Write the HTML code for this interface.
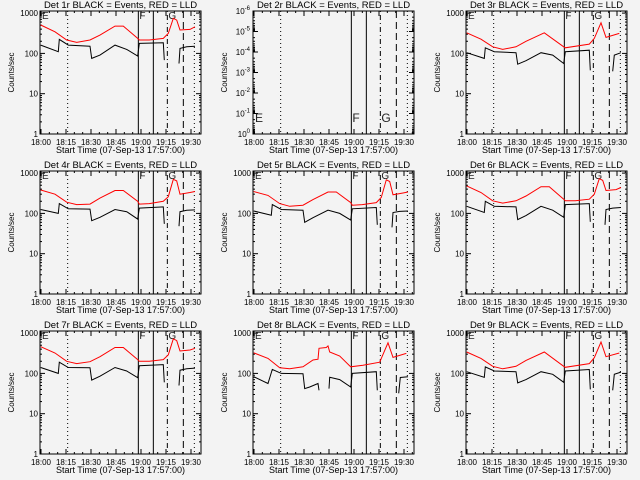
<!DOCTYPE html>
<html><head><meta charset="utf-8"><style>
html,body{margin:0;padding:0;background:#f3f3f3;}
svg{display:block;font-family:"Liberation Sans",sans-serif;}
</style></head><body>
<svg id="chart" width="640" height="480" viewBox="0 0 640 480"></svg>
<script>
// shared time grid (minutes after 18:00)
const xTickLabels = ["18:00","18:15","18:30","18:45","19:00","19:15","19:30"];
const xTickMinutes = [0,15,30,45,60,75,90];
const yTickLabels = ["1000","100","10","1"];
const yTickValues = [1000,100,10,1];
const panelTitles = ["Det 1r","Det 2r","Det 3r","Det 4r","Det 5r","Det 6r","Det 7r","Det 8r","Det 9r"];
// event markers (minutes)
const markerTimes = [16.0, 58.4, 67.4, 75.8, 85.4, 92.0];
const markerStyles = ["dot","solid","solid","dashdot","dash","dot"];

const p1BlackT = [-0.2,10.4,11,16.4,29.4,30.4,35.4,44.4,51.4,58,59,73.4,74,null,82.8,83.4,87.4,92.4];
const p1BlackV = [161,110,222,161,151,75,91,161,126,86,177,183,68,null,56,133,146,150];
const p1RedT = [-0.2,8.4,15.4,21.4,29.4,35.4,44.4,49.4,58,59,65,73.4,76.4,79.4,81.4,83.4,89.4,92.4];
const p1RedV = [506,343,215,187,215,284,477,477,236,215,215,236,313,741,671,380,395,457];

const p4BlackV = [125,100,175,130,128,66,80,125,110,72,135,145,55,null,48,110,120,122];
const p4RedV = [380,300,190,165,170,240,370,370,200,170,175,200,260,700,640,300,330,350];
const p5BlackV = [115,90,165,125,120,60,78,120,100,68,130,140,52,null,45,105,112,115];
const p5RedV = [350,280,175,150,160,220,340,340,185,160,165,185,250,680,620,290,320,340];
const p6BlackV = [150,105,200,150,145,70,88,150,120,80,165,175,62,null,52,125,135,140];
const p6RedV = [480,330,205,180,205,270,460,460,225,205,205,225,300,730,660,370,390,440];
const p7BlackV = [140,100,190,140,138,68,85,140,115,78,155,165,60,null,50,120,130,135];
const p7RedV = [460,320,200,175,195,260,440,440,220,200,200,220,290,720,650,360,380,420];

const p3BlackT = [-0.2,10.4,11,16.4,29.4,30.4,35.4,44.4,51.4,58,59,73.4,74,null,87.4,88.4,92.4];
const p3BlackV = [104,75,138,110,104,54,66,104,91,56,110,120,38,null,36,91,104];
const p3RedT = [-0.2,8.4,15.4,21.4,29.4,35.4,46.4,58,59,73.4,76.4,80.4,83.4,91.4];
const p3RedV = [325,225,146,126,146,200,325,146,138,170,235,575,250,313];
const p9BlackV = [110,80,145,115,110,58,70,110,95,60,115,125,40,null,38,95,108];
const p9RedV = [340,235,150,130,150,210,340,150,142,175,245,600,260,320];

const p8BlackT = [-0.2,8.4,11,16.4,29.4,30.4,33.4,38.4,39,null,45,45.4,51.4,58,59,73.4,74,null,86.8,87.8,92.4];
const p8BlackV = [83,56,126,100,98,42,46,56,38,null,42,80,70,46,100,110,38,null,32,79,83];
const p8RedT = [-0.2,8.4,15.4,21.4,29.4,35.4,38.4,39,43.4,44.4,45.4,51.4,58,65.4,75.4,80.4,83.4,91.4];
const p8RedV = [325,235,138,130,146,215,225,420,440,480,340,270,146,160,190,575,250,313];

const blackT = [p1BlackT,null,p3BlackT,p1BlackT,p1BlackT,p1BlackT,p1BlackT,p8BlackT,p3BlackT];
const blackV = [p1BlackV,null,p3BlackV,p4BlackV,p5BlackV,p6BlackV,p7BlackV,p8BlackV,p9BlackV];
const redT = [p1RedT,null,p3RedT,p1RedT,p1RedT,p1RedT,p1RedT,p8RedT,p3RedT];
const redV = [p1RedV,null,p3RedV,p4RedV,p5RedV,p6RedV,p7RedV,p8RedV,p9RedV];

const NS="http://www.w3.org/2000/svg";
const svg=document.getElementById('chart');
function mk(tag,attrs,parent){const e=document.createElementNS(NS,tag);for(const k in attrs)e.setAttribute(k,attrs[k]);(parent||svg).appendChild(e);return e;}

for(let p=0;p<9;p++){
  const col=p%3,row=Math.floor(p/3);
  const L=40+col*213,R=L+161,T=11+row*160,B=T+123;
  const g=mk('g',{});
  
  
  const xs=m=>L+1+m*1.6667;
  const ys=v=>B-Math.log10(v)*40.3;
  const fr=mk('rect',{x:L,y:T,width:R-L,height:B-T,fill:'none',stroke:'#000','stroke-width':1},g);
  
  
  const tt=mk('text',{x:(L+R)/2,y:T-3,'text-anchor':'middle','font-size':9.5},g);
  tt.textContent=panelTitles[p]+" BLACK = Events, RED = LLD";
  
  
  for(let m=0;m<=95;m+=5){
    const major=m%15===0,len=major?5:2;
    mk('line',{x1:xs(m),x2:xs(m),y1:B,y2:B-len,stroke:'#000'},g);
    mk('line',{x1:xs(m),x2:xs(m),y1:T,y2:T+len,stroke:'#000'},g);
  }
  xTickMinutes.forEach((m,i)=>{
    const t=mk('text',{x:xs(m),y:B+11,'text-anchor':'middle','font-size':8},g);
    t.textContent=xTickLabels[i];
    
    
  });
  const xt=mk('text',{x:(L+R)/2,y:B+19,'text-anchor':'middle','font-size':9},g);
  xt.textContent="Start Time (07-Sep-13 17:57:00)";
  
  
  const yt=mk('text',{x:0,y:0,'text-anchor':'middle','font-size':8,transform:`translate(${L-26},${(T+B)/2}) rotate(-90)`},g);
  yt.textContent="Counts/sec";
  
  
  if(p===1){
    const labs=["-6","-5","-4","-3","-2","-1","0"];
    for(let i=0;i<7;i++){
      const y=T+i*(B-T)/6;
      mk('line',{x1:L,x2:L+5,y1:y,y2:y,stroke:'#000'},g);
      mk('line',{x1:R,x2:R-5,y1:y,y2:y,stroke:'#000'},g);
      for(let k=1;k<9&&i<6;k++){const yy=y+(B-T)/6*Math.log10(k+1);mk('line',{x1:L,x2:L+2,y1:yy,y2:yy,stroke:'#000'},g);mk('line',{x1:R,x2:R-2,y1:yy,y2:yy,stroke:'#000'},g);}
      const t=mk('text',{x:L-3,y:y+3,'text-anchor':'end','font-size':8},g);
      t.innerHTML='10<tspan dy="-4" font-size="6">'+labs[i]+'</tspan>';
      
      
    }
  } else {
    yTickValues.forEach((v,i)=>{
      const y=ys(v);
      mk('line',{x1:L,x2:L+5,y1:y,y2:y,stroke:'#000'},g);
      mk('line',{x1:R,x2:R-5,y1:y,y2:y,stroke:'#000'},g);
      const t=mk('text',{x:L-2,y:y+3,'text-anchor':'end','font-size':8},g);
      t.textContent=yTickLabels[i];
      
      
      if(v<1000)for(let k=2;k<10;k++){const yy=ys(v*k);if(yy<T)break;mk('line',{x1:L,x2:L+2,y1:yy,y2:yy,stroke:'#000'},g);mk('line',{x1:R,x2:R-2,y1:yy,y2:yy,stroke:'#000'},g);}
    });
  }
  markerTimes.forEach((m,i)=>{
    const s=markerStyles[i];
    const da=s==='dot'?'1,3':s==='dash'?'7,4':s==='dashdot'?'1,3,5,3':'none';
    const ln=mk('line',{x1:xs(m),x2:xs(m),y1:T,y2:B,stroke:'#000','stroke-width':1,'stroke-dasharray':da},g);
    
    
  });
  const ly=p===1?B-12:T+8;
  [["E",0],["F",markerTimes[1]],["G",markerTimes[3]]].forEach(([c,m])=>{
    const t=mk('text',{x:xs(m)+1,y:ly,'font-size':p===1?12:10,fill:'#222'},g);
    t.textContent=c;
    
    
  });
  function drawSeries(ts,vs,color,name){
    if(!ts)return;
    let d='',pen=false;
    for(let i=0;i<ts.length;i++){
      if(ts[i]===null){pen=false;continue;}
      d+=(pen?'L':'M')+xs(ts[i]).toFixed(1)+' '+ys(vs[i]).toFixed(1)+' ';pen=true;
    }
    const pa=mk('path',{d:d,fill:'none',stroke:color,'stroke-width':1},g);
    
    
  }
  drawSeries(redT[p],redV[p],'#ff0000','lld-series');
  drawSeries(blackT[p],blackV[p],'#000000','events-series');
}
</script>
</body></html>
